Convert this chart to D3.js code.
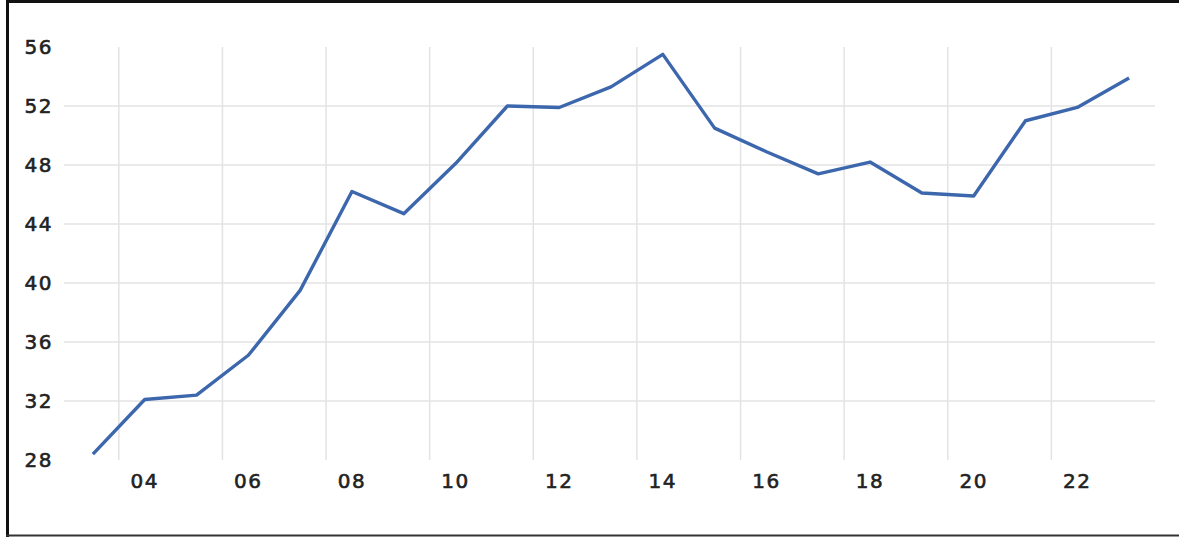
<!DOCTYPE html>
<html>
<head>
<meta charset="utf-8">
<script src="https://cdn.jsdelivr.net/npm/d3@7"></script>
<style>
  html, body { margin: 0; padding: 0; background: #fff; }
  svg { display: block; }
</style>
</head>
<body>
<svg id="chart" width="1179" height="537"></svg>
<script>
// Yearly series, two-digit year labels
const years = ["03","04","05","06","07","08","09","10","11","12","13",
               "14","15","16","17","18","19","20","21","22","23"];
const values = [28.4, 32.1, 32.4, 35.1, 39.5, 46.2, 44.7, 48.1, 52.0, 51.9, 53.3,
                55.5, 50.5, 48.9, 47.4, 48.2, 46.1, 45.9, 51.0, 51.9, 53.9];
const yTicks = [28, 32, 36, 40, 44, 48, 52, 56];
const xTickLabels = ["04","06","08","10","12","14","16","18","20","22"];

const svg = d3.select("#chart");
const W = 1179, H = 537;

// frame
svg.append("rect").attr("x", 0).attr("y", 0).attr("width", W).attr("height", H).attr("fill", "#fff");
svg.append("line").attr("x1", 6).attr("x2", W).attr("y1", 1.5).attr("y2", 1.5)
  .attr("stroke", "#111").attr("stroke-width", 3);
svg.append("line").attr("x1", 7.5).attr("x2", 7.5).attr("y1", 0).attr("y2", H)
  .attr("stroke", "#111").attr("stroke-width", 3);
svg.append("line").attr("x1", 6).attr("x2", W).attr("y1", 535.5).attr("y2", 535.5)
  .attr("stroke", "#333").attr("stroke-width", 2);

const x = d3.scaleBand().domain(years).range([67, 1155]).paddingInner(0).paddingOuter(0);
const y = d3.scaleLinear().domain([28, 56]).range([460, 47]);
const cx = d => x(d) + x.bandwidth() / 2;

// horizontal gridlines (inner values only)
svg.append("g")
  .selectAll("line")
  .data(yTicks.filter(t => t > 28 && t < 56))
  .join("line")
  .attr("x1", 64).attr("x2", 1155)
  .attr("y1", d => y(d)).attr("y2", d => y(d))
  .attr("stroke", "#e3e3e3").attr("stroke-width", 1.5);

// vertical gridlines at the left edge of each labelled band
svg.append("g")
  .selectAll("line")
  .data(xTickLabels)
  .join("line")
  .attr("x1", d => x(d)).attr("x2", d => x(d))
  .attr("y1", y(56)).attr("y2", y(28))
  .attr("stroke", "#e3e3e3").attr("stroke-width", 1.5);

const styleLabels = sel => sel
  .attr("font-family", "DejaVu Sans, sans-serif")
  .attr("font-size", 20)
  .attr("font-weight", "normal")
  .attr("fill", "#222")
  .attr("stroke", "#222")
  .attr("stroke-width", 0.6)
  .attr("letter-spacing", 1.5);

// y axis labels
const yAxis = d3.axisLeft(y).tickValues(yTicks).tickSize(0).tickPadding(0);
const gy = svg.append("g").attr("transform", "translate(53,0)").call(yAxis);
gy.select(".domain").remove();
gy.selectAll("text").call(styleLabels);

// x axis labels
const xAxis = d3.axisBottom(x).tickValues(xTickLabels).tickSize(0).tickPadding(0);
const gx = svg.append("g").attr("transform", "translate(0,474)").call(xAxis);
gx.select(".domain").remove();
gx.selectAll("text").call(styleLabels);

// series line
const line = d3.line()
  .x((d, i) => cx(years[i]))
  .y(d => y(d));

svg.append("path")
  .datum(values)
  .attr("d", line)
  .attr("fill", "none")
  .attr("stroke", "#3d67ad")
  .attr("stroke-width", 3.4)
  .attr("stroke-linejoin", "round");
</script>
</body>
</html>
